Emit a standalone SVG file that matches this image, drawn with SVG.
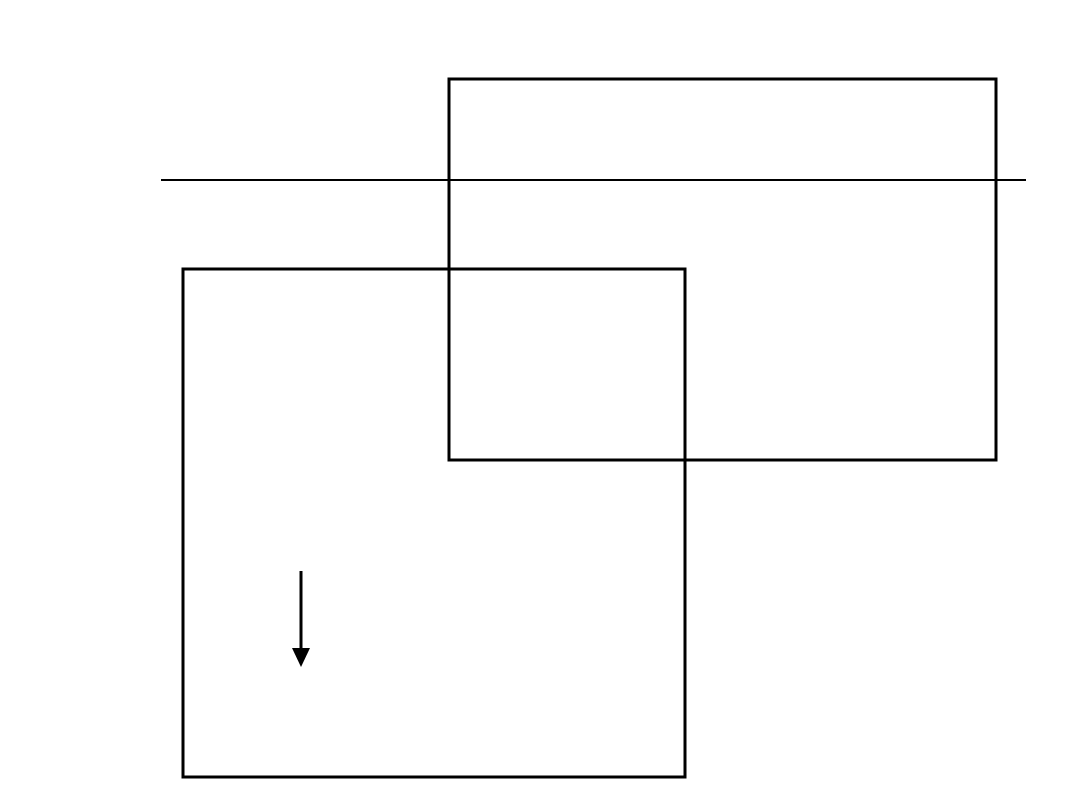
<svg xmlns="http://www.w3.org/2000/svg" width="1080" height="810" viewBox="0 0 1080 810">
<style>
.box{fill:none;stroke:#000;stroke-width:3}
.ln{stroke:#000;stroke-width:2;fill:none}
.arr{stroke:#000;stroke-width:3;fill:none}
</style>
<rect width="1080" height="810" fill="#fff"/>
<g id="line1"><line class="ln" x1="161" y1="180" x2="1026" y2="180"/></g>
<g id="rect-top"><rect class="box" x="449" y="79" width="547" height="381"/></g>
<g id="rect-bottom"><rect class="box" x="183" y="269" width="502" height="508"/></g>
<g id="connectors">
<line class="arr" x1="301" y1="571" x2="301" y2="650"/>
<polygon points="292,648 310,648 301,667" fill="#000"/>
</g>
</svg>
